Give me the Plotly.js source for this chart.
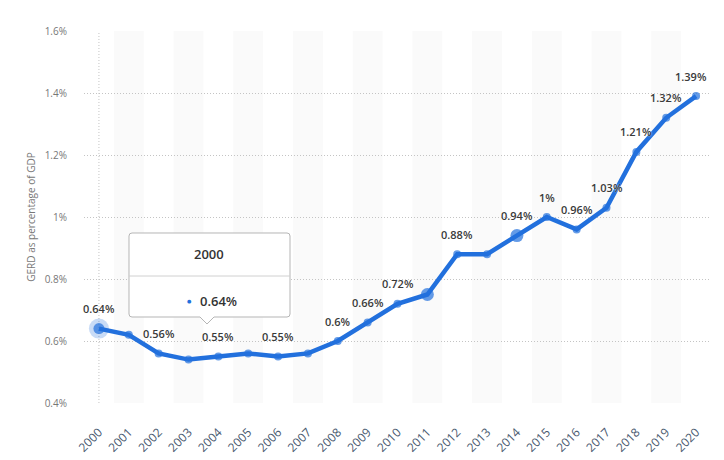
<!DOCTYPE html>
<html>
<head>
<meta charset="utf-8">
<script src="https://cdn.plot.ly/plotly-3.0.1.min.js"></script>
<style>
  html, body { margin: 0; padding: 0; background: #fff; }
  #chart { width: 724px; height: 460px; }
</style>
</head>
<body>
<div id="chart"></div>
<script>
// GERD as share of GDP, 2000-2020
const years = ['2000', '2001', '2002', '2003', '2004', '2005', '2006', '2007', '2008', '2009', '2010',
               '2011', '2012', '2013', '2014', '2015', '2016', '2017', '2018', '2019', '2020'];
const gerd = [0.64, 0.62, 0.56, 0.54, 0.55, 0.56, 0.55, 0.56, 0.60, 0.66, 0.72,
              0.75, 0.88, 0.88, 0.94, 1.00, 0.96, 1.03, 1.21, 1.32, 1.39];
// which points carry a value label
const labelled = [1, 0, 1, 0, 1, 0, 1, 0, 1, 1, 1, 0, 1, 0, 1, 1, 1, 1, 1, 1, 1];
const bigPoints = ['2011', '2014'];
const hoverYear = '2000';

const blue = '#2270dd';
const plotBox = { l: 84, r: 13, t: 31, b: 57, w: 724, h: 460 };

// pixel -> paper helpers for the static tooltip
function paperX(px) { return (px - plotBox.l) / (plotBox.w - plotBox.l - plotBox.r); }
function paperY(py) { return (plotBox.h - plotBox.b - py) / (plotBox.h - plotBox.t - plotBox.b); }
function pathFromPixels(cmds) {
    return cmds.map(c => {
        if (c.length === 1) return c[0];
        let out = c[0];
        for (let i = 1; i < c.length; i += 2) {
            out += paperX(c[i]).toFixed(5) + ',' + paperY(c[i + 1]).toFixed(5) + ' ';
        }
        return out.trim();
    }).join(' ');
}

function fmtPct(v) {
    return (Math.round(v * 100) / 100).toString() + '%';
}

// alternating column stripes
const shapes = [];
years.forEach((y, i) => {
    if (i % 2 === 1) {
        shapes.push({
            type: 'rect', xref: 'x', yref: 'paper', layer: 'below',
            x0: i - 0.5, x1: i + 0.5, y0: 0, y1: 1,
            fillcolor: '#fafafa', line: { width: 0 }
        });
    }
});

// crosshair on hovered year
const hoverIdx = years.indexOf(hoverYear);
shapes.push({
    type: 'line', xref: 'x', yref: 'paper', layer: 'below',
    x0: hoverIdx, x1: hoverIdx, y0: 0, y1: 1,
    line: { color: '#c4c4c4', width: 1, dash: '1px,2px' }
});

// tooltip box
const tip = { x0: 129, x1: 290, y0: 233, y1: 317, mid: 207, r: 3 };
shapes.push({
    type: 'path', xref: 'paper', yref: 'paper', layer: 'above',
    path: pathFromPixels([
        ['M', tip.x0 + tip.r, tip.y0],
        ['L', tip.x1 - tip.r, tip.y0],
        ['Q', tip.x1, tip.y0, tip.x1, tip.y0 + tip.r],
        ['L', tip.x1, tip.y1 - tip.r],
        ['Q', tip.x1, tip.y1, tip.x1 - tip.r, tip.y1],
        ['L', tip.mid + 7, tip.y1],
        ['L', tip.mid, tip.y1 + 7],
        ['L', tip.mid - 7, tip.y1],
        ['L', tip.x0 + tip.r, tip.y1],
        ['Q', tip.x0, tip.y1, tip.x0, tip.y1 - tip.r],
        ['L', tip.x0, tip.y0 + tip.r],
        ['Q', tip.x0, tip.y0, tip.x0 + tip.r, tip.y0],
        ['Z']
    ]),
    fillcolor: '#ffffff', line: { color: '#b5b5b5', width: 1 }
});
shapes.push({
    type: 'line', xref: 'paper', yref: 'paper', layer: 'above',
    x0: paperX(tip.x0), x1: paperX(tip.x1), y0: paperY(276), y1: paperY(276),
    line: { color: '#d0d0d0', width: 1 }
});

// value labels above the points (category axis -> use index positions)
const annotations = [];
years.forEach((y, i) => {
    if (!labelled[i]) return;
    annotations.push({
        x: i, y: gerd[i], xref: 'x', yref: 'y',
        text: fmtPct(gerd[i]), showarrow: false,
        yanchor: 'middle', yshift: 20, xshift: i === years.length - 1 ? -5 : 0,
        font: { family: 'Open Sans, sans-serif', size: 11, color: '#3a3a3a', weight: 600,
                shadow: '0px 0px 2px #fff' }
    });
});
annotations.push({
    xref: 'paper', yref: 'paper', x: paperX(209), y: paperY(254),
    text: hoverYear, showarrow: false, xanchor: 'center', yanchor: 'middle',
    font: { family: 'Open Sans, sans-serif', size: 13, color: '#333', weight: 600 }
});
annotations.push({
    xref: 'paper', yref: 'paper', x: paperX(218), y: paperY(301),
    text: fmtPct(gerd[hoverIdx]), showarrow: false, xanchor: 'center', yanchor: 'middle',
    font: { family: 'Open Sans, sans-serif', size: 13, color: '#333', weight: 600 }
});
annotations.push({
    xref: 'paper', yref: 'paper', x: paperX(189), y: paperY(301),
    text: '●', showarrow: false, xanchor: 'center', yanchor: 'middle',
    font: { family: 'DejaVu Sans, sans-serif', size: 5, color: blue }
});

const halo = {
    x: [hoverIdx], y: [gerd[hoverIdx]], type: 'scatter', mode: 'markers',
    marker: { size: 20, color: 'rgba(34,112,221,0.25)' },
    hoverinfo: 'skip', showlegend: false
};

const trace = {
    x: years.map((y, i) => i), y: gerd, type: 'scatter', mode: 'lines+markers',
    line: { color: blue, width: 4.5 },
    marker: {
        color: blue, line: { width: 0 },
        size: years.map(y => (bigPoints.includes(y) ? 13 : (y === hoverYear ? 11 : 8)))
    },
    hoverinfo: 'skip', showlegend: false
};

const layout = {
    width: 724, height: 460,
    margin: { l: plotBox.l, r: plotBox.r, t: plotBox.t, b: plotBox.b },
    paper_bgcolor: '#fff', plot_bgcolor: 'rgba(0,0,0,0)',
    font: { family: 'Open Sans, sans-serif', color: '#666' },
    xaxis: {
        range: [-0.5, years.length - 0.5],
        tickvals: years.map((y, i) => i), ticktext: years,
        tickangle: -45, ticks: '', showgrid: false, zeroline: false, showline: false,
        tickfont: { size: 12, color: '#4a5a70' }, ticklabelstandoff: 19
    },
    yaxis: {
        range: [0.4, 1.6], dtick: 0.2, tick0: 0.4, ticksuffix: '%',
        showgrid: true, gridcolor: '#c4c4c4', griddash: '1px,2px', zeroline: false, showline: false,
        ticks: '', tickfont: { size: 10, color: '#777' }, ticklabelstandoff: 16,
        title: { text: 'GERD as percentage of GDP', font: { size: 10, color: '#777' }, standoff: 7 }
    },
    shapes: shapes,
    annotations: annotations,
    showlegend: false
};

Plotly.newPlot('chart', [halo, trace], layout, { displayModeBar: false, staticPlot: true });
</script>
</body>
</html>
